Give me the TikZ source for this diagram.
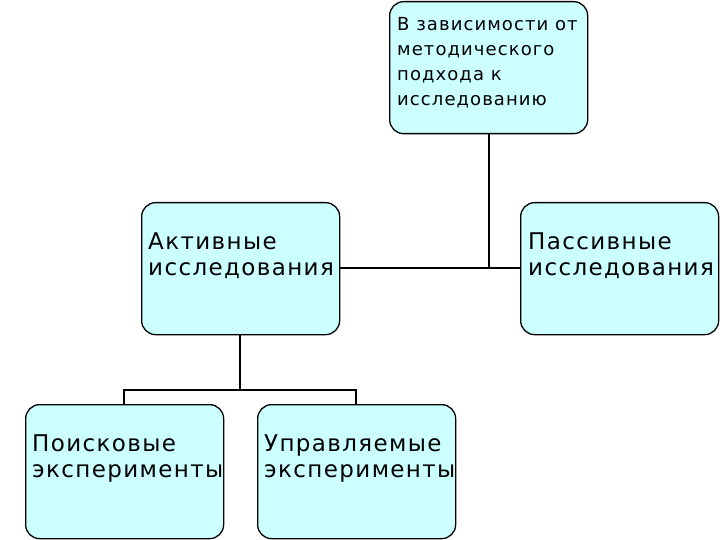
\documentclass[tikz,border=0pt]{standalone}
\usepackage{fontspec}
\setmainfont{DejaVu Sans}[LetterSpace=6]
\definecolor{boxfill}{HTML}{CCFFFF}
\begin{document}
\begin{tikzpicture}[x=1pt,y=-1pt,
  box/.style={draw=black,line width=1.3pt,fill=boxfill,rounded corners=14pt,minimum width=198pt,minimum height=#1,anchor=north west,inner sep=0pt},
  lbl/.style={anchor=north west,align=left,inner sep=0pt,font=\fontsize{23}{26}\selectfont},
  lnk/.style={line width=1.5pt}]
\useasboundingbox (0,0) rectangle (720,540);
\node[box=132pt] (top) at (389,1) {};
\node[box=132pt] (act) at (141,202) {};
\node[box=132pt] (pas) at (520,202) {};
\node[box=134pt] (poi) at (25,404) {};
\node[box=134pt] (upr) at (257,404) {};
\node[lbl,font=\fontsize{18}{25}\selectfont] (ttop) at (397,17) {В зависимости от\\методического\\подхода к\\исследованию};
\node[lbl] (tact) at (148,233) {Активные\\исследования};
\node[lbl] (tpas) at (528,233) {Пассивные\\исследования};
\node[lbl] (tpoi) at (32,435) {Поисковые\\эксперименты};
\node[lbl] (tupr) at (264,435) {Управляемые\\эксперименты};
\coordinate (j1) at (489,268);
\coordinate (j2) at (240,390);
\draw[lnk] (top.south -| j1) -- (j1);
\draw[lnk] (act.east |- j1) -- (pas.west |- j1);
\draw[lnk] (act.south -| j2) -- (j2);
\draw[lnk] (poi.north -| 124,0) -- (124,390) -- (356,390) -- (upr.north -| 356,0);
\end{tikzpicture}
\end{document}
